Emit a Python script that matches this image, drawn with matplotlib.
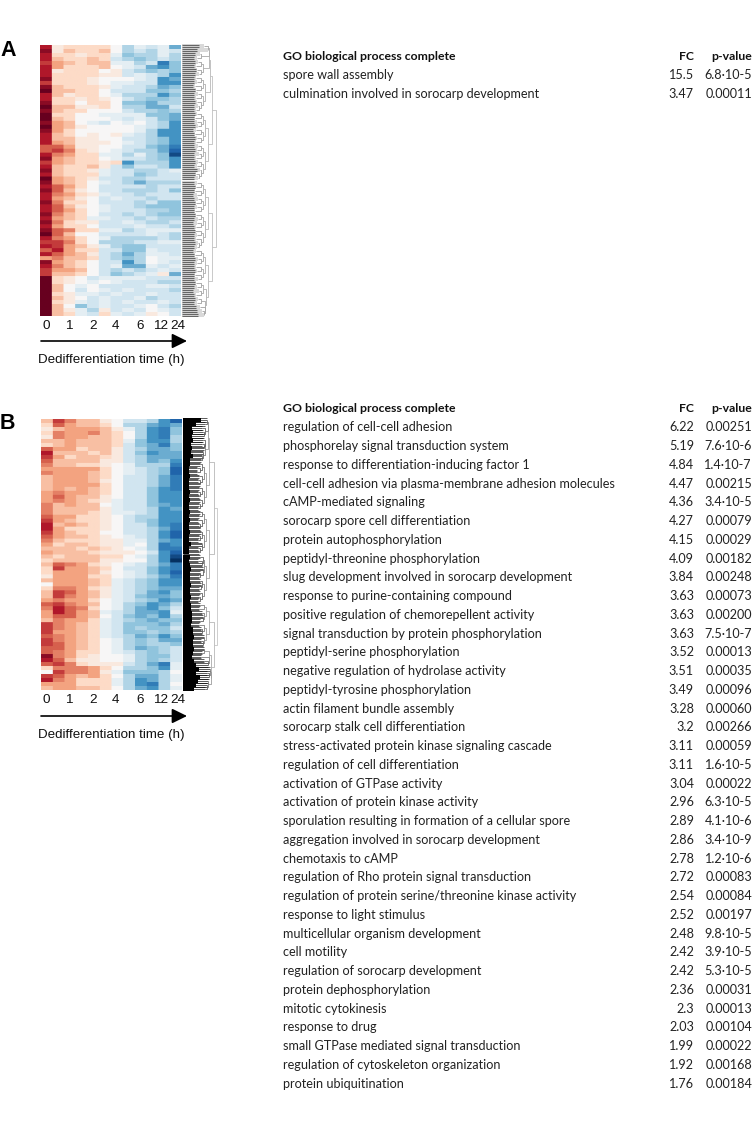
import matplotlib
matplotlib.use('Agg')
import matplotlib.pyplot as plt
import numpy as np

W, H = 754, 1138

# heatmap values read by eye, colour scale -10 (blue) .. 10 (red)
heat_a = [
    [8,1,2,2,2,2,0,-3,-1,-2,-1,-5],
    [9,1,3,2,2,3,0,-3,-2,-3,-1,-2],
    [8,2,2,1,2,2,-1,-4,-3,-3,-1,-3],
    [8,3,2,2,3,2,-2,-3,-4,-3,-2,-3],
    [7,4,3,2,3,3,-1,-1,-3,-2,-7,-4],
    [8,4,2,2,2,3,0,-1,-2,-5,-6,-4],
    [8,1,2,2,2,0,1,-2,-3,-4,-3,-4],
    [8,2,2,2,2,1,1,-2,-1,-2,-3,-6],
    [9,2,2,2,1,0,0,0,-1,-2,-6,-5],
    [7,2,2,2,1,0,-1,-1,-2,-2,-6,-6],
    [9,3,2,2,2,1,-1,-2,-2,-3,-5,-4],
    [10,3,3,2,2,0,-2,-2,-2,-4,-4,-3],
    [8,3,1,2,2,0,-1,-3,-3,-3,-6,-4],
    [8,2,2,1,2,1,0,-2,-3,-4,-4,-3],
    [9,2,2,0,2,2,0,-4,-4,-5,-3,-3],
    [10,3,3,1,1,2,0,-3,-3,-5,-5,-2],
    [9,3,2,2,0,0,0,-2,-3,-3,-4,-3],
    [10,2,2,0,0,-1,-1,-1,-1,-4,-4,-5],
    [10,3,2,0,0,0,-1,-2,-1,-2,-4,-5],
    [9,4,3,0,-1,-2,0,-1,0,-2,-3,-6],
    [10,4,3,1,0,0,0,0,-1,-2,-3,-6],
    [9,4,2,0,0,0,0,0,-1,-3,-6,-6],
    [8,3,2,0,1,0,1,-1,-2,-3,-6,-6],
    [8,3,3,1,1,0,0,-2,-2,-3,-4,-6],
    [8,4,3,1,1,1,0,-1,-2,-3,-4,-6],
    [6,6,4,1,1,0,0,-2,-2,-4,-5,-7],
    [6,7,5,2,1,0,-1,-2,-3,-3,-5,-8],
    [8,5,4,2,2,-1,-1,-3,-1,-3,-4,-9],
    [9,4,3,2,2,0,-1,-2,-2,-3,-4,-6],
    [7,4,3,2,2,1,2,-6,-3,-3,-3,-6],
    [8,3,2,2,3,1,-2,-4,-2,-2,-3,-6],
    [9,3,2,2,1,-1,-2,-2,-3,-3,-2,-1],
    [8,3,2,2,2,-1,-2,-2,-4,-3,-2,-2],
    [10,4,3,2,1,-2,-2,-3,-3,-2,-2,-2],
    [9,4,3,2,0,-1,-2,-3,-5,-3,-3,-3],
    [8,6,4,2,0,-2,-2,-2,-2,-3,-2,-2],
    [9,6,3,1,0,-2,-2,-3,-3,-3,-2,-4],
    [8,5,4,2,1,-1,-2,-2,-3,-2,-2,-2],
    [8,4,3,1,0,-2,-1,-2,-2,-3,-2,-2],
    [9,5,2,2,0,-2,-2,-2,-3,-2,-4,-4],
    [8,6,3,1,0,-1,-2,-2,-3,-4,-4,-4],
    [8,6,4,2,0,-1,-2,-2,-2,-3,-3,-4],
    [9,5,3,2,0,-2,-2,-3,-2,-3,-4,-4],
    [8,4,3,2,-1,-1,-2,-2,-3,-2,-3,-3],
    [9,5,2,1,1,-2,-2,-1,-2,-3,-3,-2],
    [8,4,2,2,0,-2,-2,-2,-1,-2,-2,-3],
    [9,6,5,2,2,-1,-1,-3,-2,-1,-1,-1],
    [10,6,3,0,0,-2,-2,-2,-2,-1,-2,-3],
    [8,5,4,2,0,-1,-3,-3,-3,-3,-2,-3],
    [7,7,5,2,0,-3,-3,-3,-2,-2,-1,-1],
    [8,7,4,3,1,-1,-3,-4,-4,-2,-2,-2],
    [6,8,4,2,2,-2,-2,-4,-4,-1,-2,-2],
    [8,6,4,3,1,-2,-3,-5,-3,-1,-1,-2],
    [4,5,3,3,2,-2,-3,-4,-3,0,-1,-1],
    [9,4,3,2,0,-2,-2,-6,-3,0,-1,-2],
    [8,5,3,2,0,-2,-1,-5,-5,-1,-2,-1],
    [7,4,4,3,0,-2,-3,-2,-3,-2,-1,-2],
    [7,3,3,2,0,-2,-4,-3,-2,-1,1,-5],
    [10,2,1,0,-2,-1,-1,-1,-1,-2,-2,-2],
    [10,2,1,0,-1,0,-1,-2,-2,-2,-3,-3],
    [10,3,0,-1,0,-2,-2,-2,-2,-1,-1,-2],
    [10,3,0,-2,0,-1,-2,-1,-2,-2,-2,-3],
    [10,2,1,-1,-1,-2,-1,-2,-2,-1,-2,-2],
    [10,3,1,0,-2,-1,-2,-2,-1,-3,-2,-2],
    [10,2,1,-1,-2,-1,-2,-1,-2,-2,-1,-2],
    [10,3,0,-4,-2,-1,-2,-2,-1,0,-2,-3],
    [10,3,1,-1,-3,1,-2,-1,-2,0,-1,-2],
    [10,3,2,-1,-2,2,-1,-2,-1,1,0,-2],
]

heat_b = [
    [3,7,5,3,3,1,0,-2,-2,-3,-6,-8],
    [2,6,4,3,3,2,0,-3,-3,-5,-6,-5],
    [1,3,4,4,4,3,1,-1,-3,-6,-7,-4],
    [2,5,4,4,5,3,2,0,-3,-6,-7,-4],
    [1,5,4,4,3,3,2,0,-3,-6,-7,-3],
    [3,3,4,3,3,3,2,-1,-4,-6,-6,-3],
    [2,3,4,3,3,3,2,-2,-4,-5,-7,-4],
    [6,4,4,2,3,3,1,-2,-3,-5,-5,-4],
    [8,3,3,3,2,3,1,-2,-4,-6,-5,-5],
    [7,4,2,3,3,2,1,-2,-3,-5,-5,-5],
    [6,3,3,3,3,1,1,-2,-3,-5,-4,-6],
    [5,3,3,2,2,1,0,-1,-3,-3,-3,-7],
    [4,4,4,4,4,2,0,-1,-2,-3,-4,-8],
    [5,4,4,4,3,2,0,-1,-2,-3,-4,-8],
    [3,4,4,4,3,2,0,-2,-2,-3,-5,-7],
    [3,4,4,4,3,1,0,-2,-2,-3,-5,-7],
    [3,4,4,4,4,2,0,-2,-2,-3,-5,-7],
    [3,4,3,4,3,2,0,-2,-2,-4,-6,-7],
    [4,5,4,4,3,2,0,-2,-2,-4,-6,-6],
    [4,6,4,3,3,1,0,-2,-2,-4,-6,-6],
    [4,5,4,3,2,1,-1,-2,-2,-4,-6,-6],
    [5,3,4,3,3,0,-1,-2,-2,-4,-5,-6],
    [5,3,3,3,3,1,-1,-2,-2,-3,-6,-5],
    [5,3,3,3,2,1,-1,-1,-2,-3,-6,-6],
    [6,4,4,2,2,1,0,-2,-3,-3,-6,-6],
    [7,4,3,2,2,1,0,-2,-3,-4,-6,-6],
    [8,3,4,3,2,1,0,-2,-2,-4,-6,-7],
    [8,4,2,2,2,1,0,-2,-2,-3,-5,-7],
    [7,4,3,2,2,0,0,-2,-2,-3,-6,-8],
    [6,4,3,3,2,1,0,-1,-2,-3,-6,-8],
    [5,3,2,2,2,1,1,-1,-1,-3,-5,-6],
    [4,2,3,3,2,1,1,-1,0,-3,-7,-6],
    [3,3,3,2,3,2,1,0,-1,-3,-7,-7],
    [4,3,3,3,2,1,1,1,0,-2,-6,-8],
    [3,2,3,3,3,2,2,0,-1,-3,-6,-9],
    [2,3,3,3,3,1,1,0,0,-3,-6,-10],
    [3,6,5,4,2,1,0,-1,-2,-3,-5,-7],
    [2,7,4,4,3,2,0,-2,-2,-4,-6,-7],
    [2,4,4,4,3,1,0,-1,-2,-4,-6,-8],
    [1,4,4,4,2,2,0,-1,-2,-3,-5,-7],
    [3,4,4,4,3,2,-1,-2,-3,-4,-6,-6],
    [0,4,4,4,3,2,-1,-2,-3,-4,-6,-6],
    [2,5,5,4,2,1,-1,-2,-3,-4,-5,-5],
    [3,7,6,4,3,1,-1,-2,-3,-5,-6,-4],
    [3,7,5,4,3,1,-1,-2,-4,-5,-5,-4],
    [4,5,4,4,2,0,-1,-2,-3,-4,-6,-5],
    [6,7,5,4,3,0,-1,-3,-4,-6,-5,-3],
    [5,8,6,5,2,0,-1,-3,-5,-6,-4,-2],
    [4,8,6,4,3,-1,-2,-3,-5,-5,-6,-1],
    [4,6,6,4,3,0,-2,-4,-5,-4,-6,-3],
    [3,5,4,4,2,-1,-2,-3,-4,-5,-4,-4],
    [7,5,4,3,2,-1,-2,-4,-4,-4,-5,-3],
    [7,5,4,3,2,-1,-2,-4,-3,-4,-4,-2],
    [7,4,4,3,2,-1,-2,-4,-4,-3,-4,-3],
    [6,5,4,3,2,-1,-2,-3,-5,-4,-6,-4],
    [7,5,4,3,2,0,-1,-3,-4,-3,-5,-5],
    [7,6,4,3,2,0,-1,-3,-4,-3,-3,-4],
    [6,6,4,3,2,0,-1,-3,-5,-4,-3,-2],
    [6,5,4,2,2,0,-1,-2,-3,-4,-3,-2],
    [9,5,4,2,1,0,0,-1,-3,-4,-4,-2],
    [8,6,3,1,1,0,0,-1,-3,-4,-3,-2],
    [6,7,5,2,1,1,1,-2,-3,-5,-7,-1],
    [2,5,5,5,4,2,0,-3,-3,-4,-6,-1],
    [0,7,5,5,4,1,-1,-4,-4,-4,-3,0],
    [7,6,4,3,4,2,0,-3,-5,-5,-3,-1],
    [8,5,4,2,2,2,-1,-3,-6,-5,-3,-1],
    [4,4,4,2,2,2,-1,-3,-6,-7,-3,0],
    [3,4,4,3,3,2,0,-3,-5,-6,-3,-1],
]

leaf_a = [22,26,18,15,16,14,15,17,14,15,13,14,16,14,15,16,14,15,13,15,16,14,13,15,14,16,15,17,14,16,15,18,
          14,16,15,14,13,15,16,14,15,13,14,16,15,14,13,15,14,16,15,14,13,16,15,14,15,13,
          16,14,15,17,14,16,15,18,20,22]
core_a = [17,15,13,12,13,12,14,13,12,12,11,13,12,12,13,12,12,13,12,12,13,11,12,13,12,12,13,12,12,13,12,15,
          13,12,12,13,12,11,12,13,12,12,13,12,11,12,13,12,12,13,12,11,12,13,12,12,13,12,
          12,13,12,11,12,13,12,14,15,16]
fuzz_b = [24,22,19,20,21,20,19,21,20,19,18,17,14,14,16,15,17,16,15,16,17,16,15,17,16,15,16,17,18,16,15,19,
          15,16,17,15,19,20,17,16,17,18,16,17,16,15,17,16,19,20,17,16,18,19,21,18,20,21,19,18,21,
          25,27,24,26,25,24,22]
core_b = [18,13,9,10,9,10,8,9,8,10,7,7,6,6,7,6,6,6,7,6,7,6,6,7,6,7,6,6,7,6,6,8,
          6,6,7,6,7,8,7,7,7,8,7,7,8,7,8,8,9,9,9,8,10,10,11,10,10,11,10,9,11,
          13,16,13,17,15,13,11]

top_split_a = 34
top_split_b = 46
levels_a = [34, 30, 26, 23, 21, 19, 17, 15]
levels_b = [34, 31, 26, 23, 21, 19, 17, 16]

time_labels = ['0', '1', '2', '4', '6', '12', '24']
time_label_x = [46, 69, 93, 115, 140, 161, 178]

terms_a = ['spore wall assembly', 'culmination involved in sorocarp development']
fc_a = ['15.5', '3.47']
p_a = ['6.8·10-5', '0.00011']

terms_b = [
    'regulation of cell-cell adhesion', 'phosphorelay signal transduction system',
    'response to differentiation-inducing factor 1', 'cell-cell adhesion via plasma-membrane adhesion molecules',
    'cAMP-mediated signaling', 'sorocarp spore cell differentiation', 'protein autophosphorylation',
    'peptidyl-threonine phosphorylation', 'slug development involved in sorocarp development',
    'response to purine-containing compound', 'positive regulation of chemorepellent activity',
    'signal transduction by protein phosphorylation', 'peptidyl-serine phosphorylation',
    'negative regulation of hydrolase activity', 'peptidyl-tyrosine phosphorylation',
    'actin filament bundle assembly', 'sorocarp stalk cell differentiation',
    'stress-activated protein kinase signaling cascade', 'regulation of cell differentiation',
    'activation of GTPase activity', 'activation of protein kinase activity',
    'sporulation resulting in formation of a cellular spore', 'aggregation involved in sorocarp development',
    'chemotaxis to cAMP', 'regulation of Rho protein signal transduction',
    'regulation of protein serine/threonine kinase activity', 'response to light stimulus',
    'multicellular organism development', 'cell motility', 'regulation of sorocarp development',
    'protein dephosphorylation', 'mitotic cytokinesis', 'response to drug',
    'small GTPase mediated signal transduction', 'regulation of cytoskeleton organization',
    'protein ubiquitination']
fc_b = ['6.22','5.19','4.84','4.47','4.36','4.27','4.15','4.09','3.84','3.63','3.63','3.63','3.52','3.51',
        '3.49','3.28','3.2','3.11','3.11','3.04','2.96','2.89','2.86','2.78','2.72','2.54','2.52','2.48',
        '2.42','2.42','2.36','2.3','2.03','1.99','1.92','1.76']
p_b = ['0.00251','7.6·10-6','1.4·10-7','0.00215','3.4·10-5','0.00079','0.00029','0.00182','0.00248',
       '0.00073','0.00200','7.5·10-7','0.00013','0.00035','0.00096','0.00060','0.00266','0.00059',
       '1.6·10-5','0.00022','6.3·10-5','4.1·10-6','3.4·10-9','1.2·10-6','0.00083','0.00084','0.00197',
       '9.8·10-5','3.9·10-5','5.3·10-5','0.00031','0.00013','0.00104','0.00022','0.00168','0.00184']

fig = plt.figure(figsize=(W / 100, H / 100), dpi=100)
bg = fig.add_axes([0, 0, 1, 1])
bg.set_xlim(0, W)
bg.set_ylim(H, 0)
bg.axis('off')


def pixel_axes(x0, y0, x1, y1):
    ax = fig.add_axes([x0 / W, 1 - y1 / H, (x1 - x0) / W, (y1 - y0) / H])
    ax.axis('off')
    return ax


# recursive bracket tree, leaves come in from the heatmap side
def tree(ax, lengths, levels, lo, hi, depth, split, colors, lw):
    if hi - lo == 1:
        return lo + 0.5, lengths[lo]
    mid = split if depth == 0 else (lo + hi) // 2
    y1, x1 = tree(ax, lengths, levels, lo, mid, depth + 1, split, colors, lw)
    y2, x2 = tree(ax, lengths, levels, mid, hi, depth + 1, split, colors, lw)
    x = max(levels[min(depth, len(levels) - 1)], x1 + 0.5, x2 + 0.5)
    c = colors[min(depth, len(colors) - 1)]
    ax.plot([x1, x, x, x2], [y1, y1, y2, y2], color=c, lw=lw, solid_capstyle='butt')
    return (y1 + y2) / 2, x


def panel(heat, core, leaves, levels, split, top, bottom, hx0, leaf_color, core_lw, thin_lw, thin_off, tree_colors, tree_lw):
    # cells blown up first so the smoothing only softens the edges a little
    arr = np.repeat(np.repeat(np.array(heat), 4, axis=0), 12, axis=1)
    hm = pixel_axes(hx0, top, hx0 + 141, bottom)
    hm.imshow(arr, cmap='RdBu_r', vmin=-10, vmax=10, aspect='auto', interpolation='hanning')

    dn = pixel_axes(hx0 + 141.5, top - 1, hx0 + 177, bottom + 1)
    dn.set_xlim(0, 35.5)
    dn.set_ylim(len(leaves), 0)
    rows = np.arange(len(leaves))
    for off in [0.25, 0.75]:
        dn.hlines(rows + off, 0, core, color=leaf_color, lw=core_lw)
    for off in thin_off:
        dn.hlines(rows + off, 0, leaves, color=leaf_color, lw=thin_lw)
    tree(dn, leaves, levels, 0, len(leaves), 0, split, tree_colors, tree_lw)


panel(heat_a, core_a, leaf_a, levels_a, top_split_a, 45, 316, 40, '#666666', 0.8, 0.35, [0.25, 0.75],
      ['#c0c0c0', '#c0c0c0', '#b8b8b8', '#b0b0b0', '#a8a8a8', '#a0a0a0'], 0.6)
panel(heat_b, core_b, fuzz_b, levels_b, top_split_b, 419, 690, 41, 'black', 1.6, 0.45, [0.1, 0.5, 0.9],
      ['#bbbbbb', '#aaaaaa', '#999999', '#888888', '#666666', '#444444'], 0.5)

for y_lab, y_arrow, y_title, letter, y_let in [(326, 341, 360, 'A', 50), (700, 716, 735, 'B', 423)]:
    for lab, x in zip(time_labels, time_label_x):
        bg.text(x, y_lab, lab, ha='center', va='center', family='Liberation Sans', fontsize=9.7, color='#111111')
    bg.annotate('', xy=(187, y_arrow), xytext=(41, y_arrow),
                arrowprops=dict(arrowstyle='-|>,head_length=0.65,head_width=0.32', color='black', lw=1.2,
                                shrinkA=0, shrinkB=0, mutation_scale=14))
    bg.text(38, y_title, 'Dedifferentiation time (h)', ha='left', va='center', family='Liberation Sans',
            fontsize=9.6, color='#111111')
    bg.text(0, y_let, letter, ha='left', va='center', family='Liberation Sans', fontweight='bold', fontsize=15.5)


def table(terms, fc, p, y0, step=18.75):
    size = 9.08
    bold = 8.85
    font = 'Lato'
    bg.text(283, y0, 'GO biological process complete', ha='left', va='center', family=font, fontweight='bold', fontsize=bold, color='#111111')
    bg.text(694, y0, 'FC', ha='right', va='center', family=font, fontweight='bold', fontsize=bold, color='#111111')
    bg.text(752, y0, 'p-value', ha='right', va='center', family=font, fontweight='bold', fontsize=bold, color='#111111')
    for i in range(len(terms)):
        y = y0 + (i + 1) * step
        bg.text(283, y, terms[i], ha='left', va='center', family=font, fontsize=size, color='#222222')
        bg.text(694, y, fc[i], ha='right', va='center', family=font, fontsize=size, color='#222222')
        bg.text(752, y, p[i], ha='right', va='center', family=font, fontsize=size, color='#222222')


table(terms_a, fc_a, p_a, 56.5)
table(terms_b, fc_b, p_b, 408.5)

fig.savefig('out.png', dpi=100)
